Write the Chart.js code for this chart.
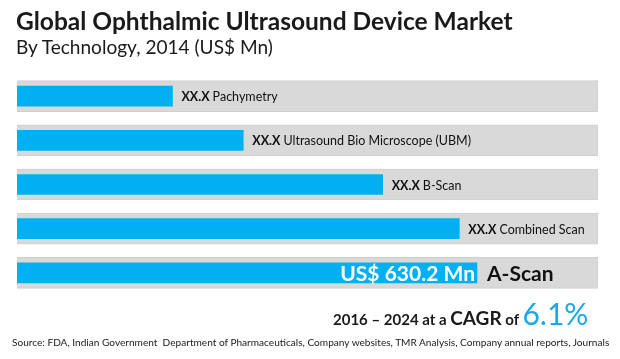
<!DOCTYPE html>
<html>
<head>
<meta charset="utf-8">
<script src="https://cdn.jsdelivr.net/npm/chart.js@4/dist/chart.umd.min.js"></script>
<style>
  html, body { margin: 0; padding: 0; background: #ffffff; }
  #wrap { position: relative; width: 620px; height: 359px; overflow: hidden; font-family: Lato, "Open Sans", sans-serif; color: #1a1a1a; }
  #chart { position: absolute; left: 0; top: 0; }
  .t { position: absolute; white-space: nowrap; line-height: 1; }
  #title { left: 16px; top: 9px; font-weight: 700; font-size: 22px; }
  #subtitle { left: 16px; top: 37px; font-size: 17px; }
  #cagr { left: 333px; top: 298px; font-weight: 700; font-size: 15px; }
  #cagr .big { font-size: 19px; }
  #cagr .pct { font-size: 30px; color: #1aa9e8; font-weight: 400; }
  #source { left: 12px; top: 337px; font-size: 10px; }
</style>
</head>
<body>
<div id="wrap">
  <canvas id="chart" width="620" height="359"></canvas>
  <div class="t" id="title">Global Ophthalmic Ultrasound Device Market</div>
  <div class="t" id="subtitle">By Technology, 2014 (US$ Mn)</div>
  <div class="t" id="cagr">2016 – 2024 at a <span class="big">CAGR</span> of <span class="pct">6.1%</span></div>
  <div class="t" id="source">Source: FDA, Indian Government&nbsp; Department of Pharmaceuticals, Company websites, TMR Analysis, Company annual reports, Journals</div>
</div>
<script>
// ---- data ----
const categories = ['Pachymetry', 'Ultrasound Bio Microscope (UBM)', 'B-Scan', 'Combined Scan', 'A-Scan'];
const values = [213, 310, 501, 606, 630.2];           // US$ Mn (only A-Scan is labelled; others)
const valueLabels = ['XX.X', 'XX.X', 'XX.X', 'XX.X', 'US$ 630.2 Mn'];
const axisMax = 796;
const trackValues = [796, 796, 796, 796, 796];

// fit DOM text widths to the reference
function fit(id, target) {
  const el = document.getElementById(id);
  const w = el.getBoundingClientRect().width;
  const scale = target / w;
  el.style.fontSize = (parseFloat(getComputedStyle(el).fontSize) * scale) + 'px';
}
function fitAll() {
  fit('title', 497);
  fit('subtitle', 257);
  fit('source', 598);
}

const FONT = 'Lato, "Open Sans", sans-serif';
const labelPlugin = {
  id: 'barLabels',
  afterDatasetsDraw(chart) {
    const ctx = chart.ctx;
    const meta = chart.getDatasetMeta(0);
    ctx.save();
    ctx.textBaseline = 'middle';
    meta.data.forEach((bar, i) => {
      const x = bar.x, y = bar.y;
      if (i < categories.length - 1) {
        ctx.textAlign = 'left';
        ctx.fillStyle = '#111111';
        ctx.font = '700 12.5px ' + FONT;
        ctx.fillText(valueLabels[i], x + 9, y + 1);
        const w = ctx.measureText(valueLabels[i] + ' ').width;
        ctx.font = '400 12.5px ' + FONT;
        ctx.fillText(categories[i], x + 9 + w, y + 1);
      } else {
        ctx.font = '700 21px ' + FONT;
        ctx.textAlign = 'right';
        ctx.fillStyle = '#ffffff';
        ctx.fillText(valueLabels[i], x - 2, y + 1);
        ctx.textAlign = 'left';
        ctx.fillStyle = '#111111';
        ctx.fillText(categories[i], x + 10, y + 1);
      }
    });
    ctx.restore();
  }
};

new Chart(document.getElementById('chart'), {
  type: 'bar',
  data: {
    labels: categories,
    datasets: [
      {
        data: values,
        backgroundColor: '#00b0f0',
        barThickness: 20,
        grouped: false,
        order: 1
      },
      {
        data: trackValues,
        backgroundColor: '#d9d9d9',
        borderColor: '#cfcfcf',
        borderWidth: 1,
        barThickness: 31,
        grouped: false,
        order: 2
      }
    ]
  },
  options: {
    indexAxis: 'y',
    responsive: false,
    devicePixelRatio: 1,
    animation: false,
    layout: { padding: { left: 17, right: 22, top: 74, bottom: 64 } },
    plugins: { legend: { display: false }, tooltip: { enabled: false } },
    scales: {
      x: { display: false, min: 0, max: axisMax },
      y: { display: false }
    }
  },
  plugins: [labelPlugin]
});
fitAll();
</script>
</body>
</html>
